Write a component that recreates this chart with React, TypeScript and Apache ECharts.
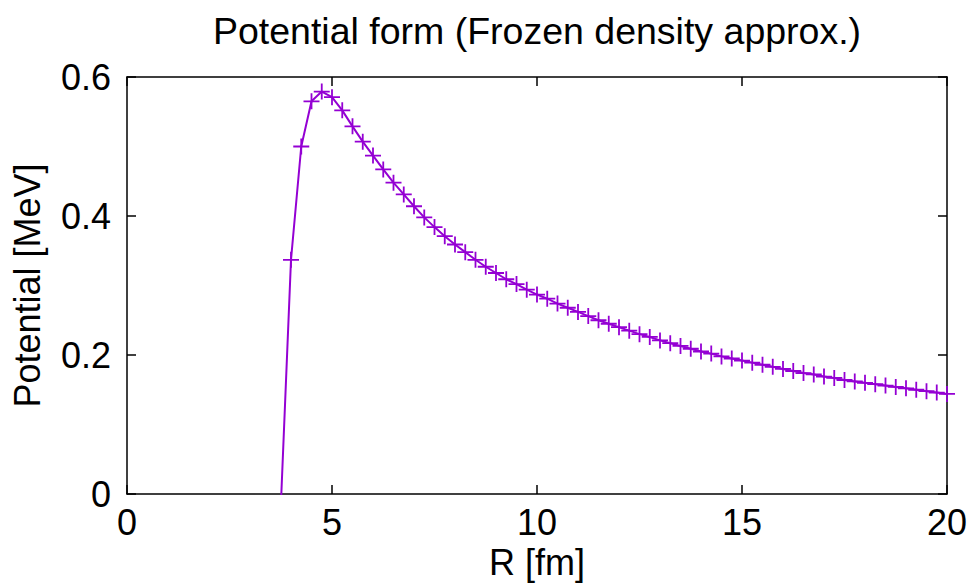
import React, { useEffect, useRef } from "react";
import * as echarts from "echarts";

const titleText = "Potential form (Frozen density approx.)";
const xName = "R [fm]";
const yName = "Potential [MeV]";

const rValues = [
  3.75, 4.0, 4.25, 4.5, 4.75, 5.0, 5.25, 5.5, 5.75, 6.0, 6.25, 6.5, 6.75, 7.0,
  7.25, 7.5, 7.75, 8.0, 8.25, 8.5, 8.75, 9.0, 9.25, 9.5, 9.75, 10.0, 10.25,
  10.5, 10.75, 11.0, 11.25, 11.5, 11.75, 12.0, 12.25, 12.5, 12.75, 13.0, 13.25,
  13.5, 13.75, 14.0, 14.25, 14.5, 14.75, 15.0, 15.25, 15.5, 15.75, 16.0, 16.25,
  16.5, 16.75, 17.0, 17.25, 17.5, 17.75, 18.0, 18.25, 18.5, 18.75, 19.0, 19.25,
  19.5, 19.75, 20.0,
];

const potential = [
  -0.02, 0.337, 0.5, 0.565, 0.579, 0.571, 0.552, 0.529, 0.507, 0.487, 0.467,
  0.448, 0.431, 0.414, 0.398, 0.384, 0.371, 0.359, 0.348, 0.337, 0.327, 0.318,
  0.309, 0.302, 0.294, 0.287, 0.281, 0.274, 0.268, 0.262, 0.256, 0.25, 0.245,
  0.24, 0.235, 0.23, 0.226, 0.221, 0.217, 0.213, 0.209, 0.205, 0.202, 0.198,
  0.195, 0.192, 0.189, 0.186, 0.183, 0.18, 0.177, 0.174, 0.172, 0.169, 0.167,
  0.164, 0.162, 0.16, 0.158, 0.156, 0.154, 0.152, 0.15, 0.148, 0.146, 0.144,
];

const xMin = 0;
const xMax = 20;
const xStep = 5;
const yMin = 0;
const yMax = 0.6;
const yStep = 0.2;

const FONT = "'Liberation Sans', Arial, Helvetica, sans-serif";
const COLOR = "#9400d3";

export default function App() {
  const ref = useRef<HTMLDivElement>(null);

  useEffect(() => {
    document.body.style.margin = "0";
    if (!ref.current) return;
    const chart = echarts.init(ref.current, undefined, { renderer: "svg" });

    const axisLine = { show: true, onZero: false, lineStyle: { color: "#000", width: 1.5 } };
    const axisTick = { show: true, inside: true, length: 9, lineStyle: { color: "#000", width: 1.5 } };
    const label = { color: "#000", fontSize: 36, fontFamily: FONT };

    chart.setOption({
      animation: false,
      backgroundColor: "#fff",
      graphic: [
        {
          type: "text",
          x: 537,
          y: 31,
          style: {
            text: titleText,
            fontSize: 37.5,
            fontFamily: FONT,
            fill: "#000",
            align: "center",
            verticalAlign: "middle",
          },
        },
      ],
      grid: {
        left: 127,
        right: 31,
        top: 77,
        bottom: 90,
        containLabel: false,
        outerBoundsMode: "none",
      },
      xAxis: [
        {
          type: "value",
          min: xMin,
          max: xMax,
          interval: xStep,
          position: "bottom",
          axisLine,
          axisTick,
          splitLine: { show: false },
          axisLabel: { ...label, margin: 10 },
          name: xName,
          nameLocation: "middle",
          nameGap: 48,
          nameTextStyle: { ...label },
        },
        {
          type: "value",
          min: xMin,
          max: xMax,
          interval: xStep,
          position: "top",
          axisLine,
          axisTick,
          splitLine: { show: false },
          axisLabel: { show: false },
        },
      ],
      yAxis: [
        {
          type: "value",
          min: yMin,
          max: yMax,
          interval: yStep,
          position: "left",
          axisLine,
          axisTick,
          splitLine: { show: false },
          axisLabel: { ...label, margin: 16 },
          name: yName,
          nameLocation: "middle",
          nameGap: 82,
          nameRotate: 90,
          nameTextStyle: { ...label },
        },
        {
          type: "value",
          min: yMin,
          max: yMax,
          interval: yStep,
          position: "right",
          axisLine,
          axisTick,
          splitLine: { show: false },
          axisLabel: { show: false },
        },
      ],
      series: [
        {
          type: "line",
          data: rValues.map((r, i) => [r, potential[i]]),
          clip: true,
          symbol: "path://M5,0 L5,10 M0,5 L10,5",
          symbolSize: 16,
          showAllSymbol: true,
          lineStyle: { color: COLOR, width: 2 },
          itemStyle: { color: COLOR, borderColor: COLOR, borderWidth: 1.8 },
        },
      ],
    });

    return () => chart.dispose();
  }, []);

  return (
    <div
      ref={ref}
      style={{ position: "fixed", left: 0, top: 0, width: 978, height: 584 }}
    />
  );
}
